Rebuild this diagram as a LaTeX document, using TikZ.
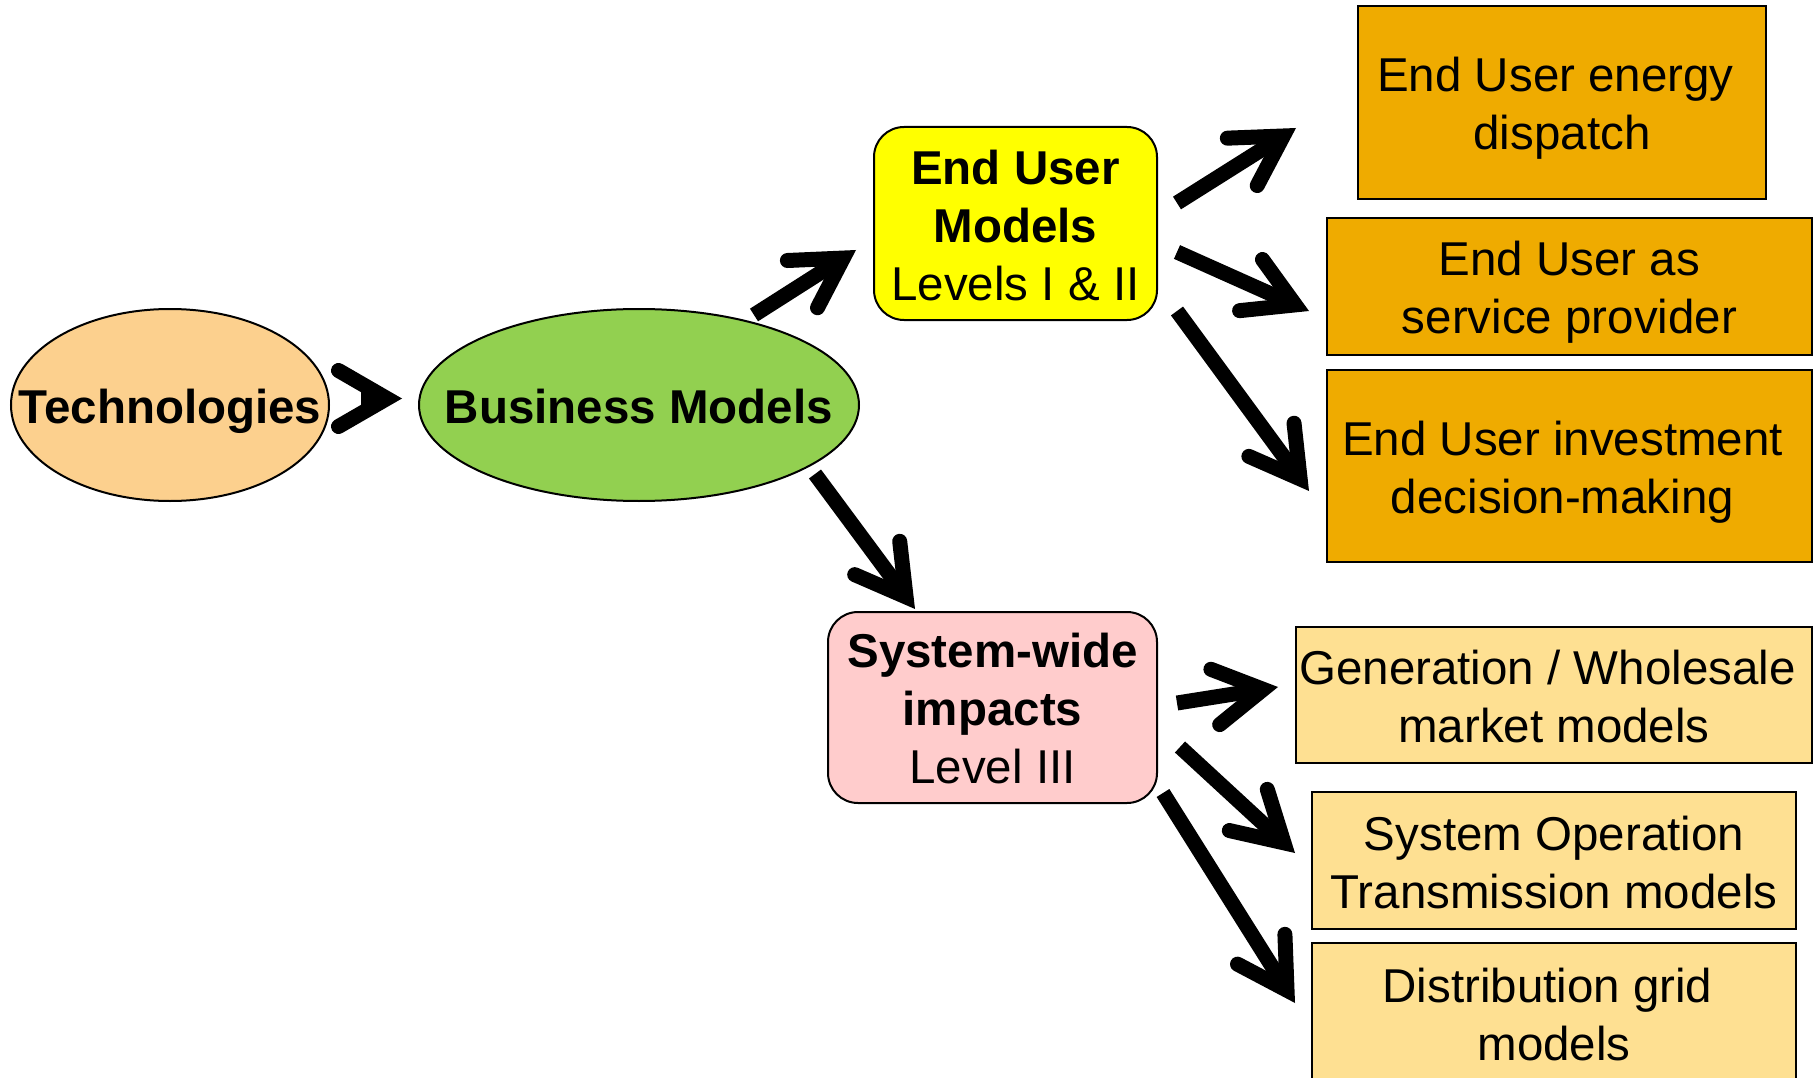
\documentclass[tikz,border=0pt]{standalone}
\usepackage{fontspec}
\setmainfont{Liberation Sans}
\usetikzlibrary{shapes.geometric,calc}
\definecolor{techc}{RGB}{252,208,142}
\definecolor{bmc}{RGB}{146,208,80}
\definecolor{eumc}{RGB}{255,255,0}
\definecolor{swc}{RGB}{255,204,204}
\definecolor{darkc}{RGB}{239,171,0}
\definecolor{lightc}{RGB}{254,224,146}
\newcommand{\bigarr}[2]{%
  \coordinate (vtx) at ($(#2)!15pt!(#1)$);
  \draw[shaftline] (#1) -- (vtx);
  \draw[headline] ($(vtx)!56pt!30:(#1)$) -- (vtx) -- ($(vtx)!56pt!-30:(#1)$);
}
\begin{document}
\begin{tikzpicture}[x=1pt,y=-1pt,
  txt/.style={font=\fontsize{47.5}{58}\selectfont, align=center, inner sep=0pt},
  ell/.style={ellipse, draw, line width=2pt, inner sep=0pt},
  rbox/.style={draw, line width=2pt, rounded corners=30pt, inner sep=0pt},
  sbox/.style={draw, line width=2pt, inner sep=0pt},
  shaftline/.style={line width=15pt, line cap=butt},
  headline/.style={line width=15pt, line cap=round, line join=miter}]
\useasboundingbox (0,0) rectangle (1816,1078);

% ellipses
\node[ell, fill=techc, minimum width=318pt, minimum height=192pt] (tech) at (170,405) {};
\node[txt, anchor=base, font=\fontsize{47.5}{58}\selectfont\bfseries] (techlbl) at (170,423) {Technologies};
\node[ell, fill=bmc, minimum width=440pt, minimum height=192pt] (bm) at (639,405) {};
\node[txt, anchor=base, font=\fontsize{47.5}{58}\selectfont\bfseries] (bmlbl) at (639,423) {Business Models};

% rounded boxes
\node[rbox, fill=eumc, minimum width=283pt, minimum height=193pt] (eum) at (1015.5,223.5) {};
\node[txt] (eumlbl) at ([shift={(0,2.5)}]eum.center) {\textbf{End User}\\\textbf{Models}\\Levels I \& II};
\node[rbox, fill=swc, minimum width=329pt, minimum height=191pt] (sw) at (992.5,707.5) {};
\node[txt] (swlbl) at ([shift={(0,1)}]sw.center) {\textbf{System-wide}\\\textbf{impacts}\\Level III};

% outcome boxes
\node[sbox, fill=darkc, minimum width=408pt, minimum height=193pt] (b1) at (1562,102.5) {};
\node[txt] (b1lbl) at ([shift={(0,6)}]b1.center) {End User energy\kern13pt\\dispatch};
\node[sbox, fill=darkc, minimum width=485pt, minimum height=137pt] (b2) at (1569.5,286.5) {};
\node[txt] (b2lbl) at ([shift={(0,6)}]b2.center) {End User as\\service provider};
\node[sbox, fill=darkc, minimum width=485pt, minimum height=192pt] (b3) at (1569.5,466) {};
\node[txt] (b3lbl) at ([shift={(-7,6)}]b3.center) {End User investment\\decision-making};
\node[sbox, fill=lightc, minimum width=516pt, minimum height=136pt] (gen) at (1554,695) {};
\node[txt] (genlbl) at ([shift={(0,2)}]gen.center) {Generation / Wholesale\kern13pt\\market models};
\node[sbox, fill=lightc, minimum width=484pt, minimum height=137pt] (sysop) at (1554,860.5) {};
\node[txt] (sysoplbl) at ([shift={(0,2)}]sysop.center) {System Operation\\Transmission models};
\node[sbox, fill=lightc, minimum width=484pt, minimum height=144pt] (dist) at (1554,1015) {};
\node[txt] (distlbl) at (dist.center) {Distribution grid\kern13pt\\models};

% arrow end points
\coordinate (a0s) at ([shift={(31,-6.5)}]tech.east);
\coordinate (a0e) at ([shift={(-16,-6.5)}]bm.west);
\coordinate (a1s) at ([shift={(115,-90)}]bm.center);
\coordinate (a1e) at ([shift={(-17,26.5)}]eum.west);
\coordinate (a2s) at ([shift={(19,-20.5)}]eum.east);
\coordinate (a2e) at ([shift={(-61,25.5)}]b1.west);
\coordinate (a3s) at ([shift={(19,28.5)}]eum.east);
\coordinate (a3e) at ([shift={(-17,24.5)}]b2.west);
\coordinate (a4s) at ([shift={(19,87.5)}]eum.east);
\coordinate (a4e) at ([shift={(-17,25)}]b3.west);
\coordinate (a5s) at ([shift={(176,69)}]bm.center);
\coordinate (a5e) at ([shift={(-77.5,-2)}]sw.north);
\coordinate (a6s) at ([shift={(19,-4.5)}]sw.east);
\coordinate (a6e) at ([shift={(-17,-8)}]gen.west);
\coordinate (a7s) at ([shift={(22,39.5)}]sw.east);
\coordinate (a7e) at ([shift={(-16,-7.5)}]sysop.west);
\coordinate (a8s) at ([shift={(5,85.5)}]sw.east);
\coordinate (a8e) at ([shift={(-16,-12)}]dist.west);

\bigarr{a0s}{a0e}
\bigarr{a1s}{a1e}
\bigarr{a2s}{a2e}
\bigarr{a3s}{a3e}
\bigarr{a4s}{a4e}
\bigarr{a5s}{a5e}
\bigarr{a6s}{a6e}
\bigarr{a7s}{a7e}
\bigarr{a8s}{a8e}
\end{tikzpicture}
\end{document}
